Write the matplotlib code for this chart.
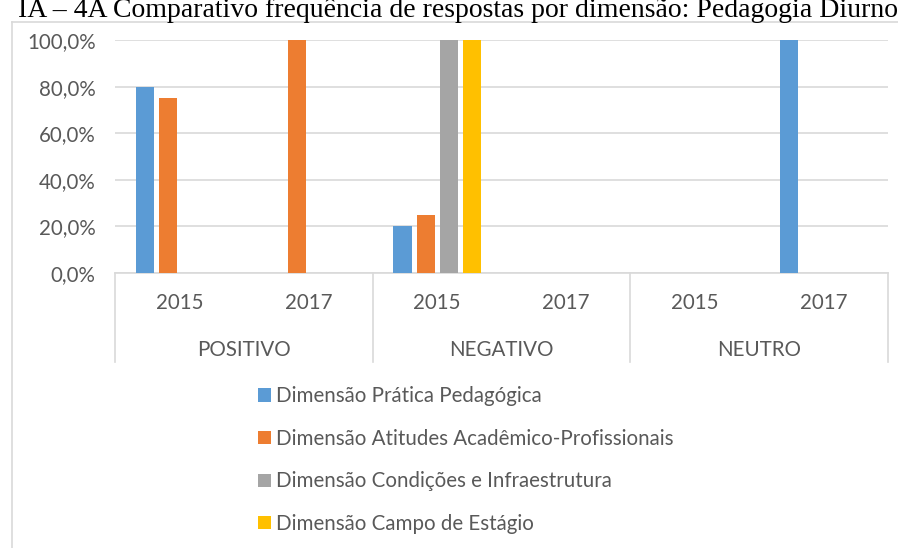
import matplotlib.pyplot as plt
from matplotlib.lines import Line2D
import numpy as np

# dados do gráfico
grupos = ["POSITIVO", "NEGATIVO", "NEUTRO"]
anos = ["2015", "2017"]
series = [
    "Dimensão Prática Pedagógica",
    "Dimensão Atitudes Acadêmico-Profissionais",
    "Dimensão Condições e Infraestrutura",
    "Dimensão Campo de Estágio",
]
# valores por categoria: POS 2015, POS 2017, NEG 2015, NEG 2017, NEU 2015, NEU 2017
pratica = [0.80, 0.0, 0.20, 0.0, 0.0, 1.00]
atitudes = [0.75, 1.00, 0.25, 0.0, 0.0, 0.0]
condicoes = [0.0, 0.0, 1.00, 0.0, 0.0, 0.0]
campo = [0.0, 0.0, 1.00, 0.0, 0.0, 0.0]
cores = ["#5B9BD5", "#ED7D31", "#A5A5A5", "#FFC000"]
titulo = "IA – 4A Comparativo frequência de respostas por dimensão: Pedagogia Diurno"
yticks = [0, 0.2, 0.4, 0.6, 0.8, 1.0]

W, H = 898, 548
fig = plt.figure(figsize=(W / 100, H / 100), dpi=100)
plt.rcParams['font.family'] = ['Lato', 'DejaVu Sans']
cinza = "#595959"
fs = 14.8

# moldura do gráfico (borda cinza clara)
fig.add_artist(Line2D([12 / W, 12 / W], [0, 1 - 22 / H], color="#d9d9d9", lw=1.2, transform=fig.transFigure))
fig.add_artist(Line2D([12 / W, 1], [1 - 22 / H, 1 - 22 / H], color="#d9d9d9", lw=1.2, transform=fig.transFigure))

# título cortado no topo
fig.text(18 / W, 1 - 17 / H, titulo, family="Liberation Serif", fontsize=20,
         va="baseline", ha="left", color="black")

ax = fig.add_axes([115 / W, 1 - 273 / H, (888 - 115) / W, (273 - 40) / H])
x = np.arange(6)
passo = 0.179
larg = 0.14
barras = []
for i, vals in enumerate([pratica, atitudes, condicoes, campo]):
    b = ax.bar(x + (i - 1.5) * passo, vals, width=larg, color=cores[i], label=series[i], zorder=3)
    barras.append(b)

ax.set_xlim(-0.5, 5.5)
ax.set_ylim(0, 1.0)
ax.set_yticks(yticks)
ax.set_yticklabels([f"{v*100:.1f}%".replace(".", ",") for v in yticks], color=cinza, fontsize=fs)
ax.tick_params(axis="y", length=0, pad=14)
ax.set_xticks([])
ax.grid(axis="y", color="#d9d9d9", lw=1.2, zorder=0)
for s in ["left", "right", "top"]:
    ax.spines[s].set_visible(False)
ax.spines["bottom"].set_color("#d9d9d9")
ax.spines["bottom"].set_linewidth(1.2)

# eixo de categorias em dois níveis
tr = ax.get_xaxis_transform()
y_sep = -(362 - 273) / (273 - 40)
for xs in [-0.5, 1.5, 3.5, 5.5]:
    ax.add_line(Line2D([xs, xs], [0, y_sep], color="#d9d9d9", lw=1.2, transform=tr, clip_on=False))
for k in range(6):
    ax.text(k, -(303 - 273) / (273 - 40), anos[k % 2], transform=tr, ha="center", va="center",
            color=cinza, fontsize=fs)
for g, nome in enumerate(grupos):
    ax.text(2 * g + 0.5, -(350 - 273) / (273 - 40), nome, transform=tr, ha="center", va="center",
            color=cinza, fontsize=fs)

fig.legend(handles=barras, labels=series, loc="upper left", bbox_to_anchor=(250 / W, 1 - 378 / H),
           frameon=False, fontsize=fs, labelcolor=cinza, handlelength=0.6, handleheight=0.6,
           handletextpad=0.25, labelspacing=1.1, borderaxespad=0)

fig.savefig("out.png", dpi=100)
